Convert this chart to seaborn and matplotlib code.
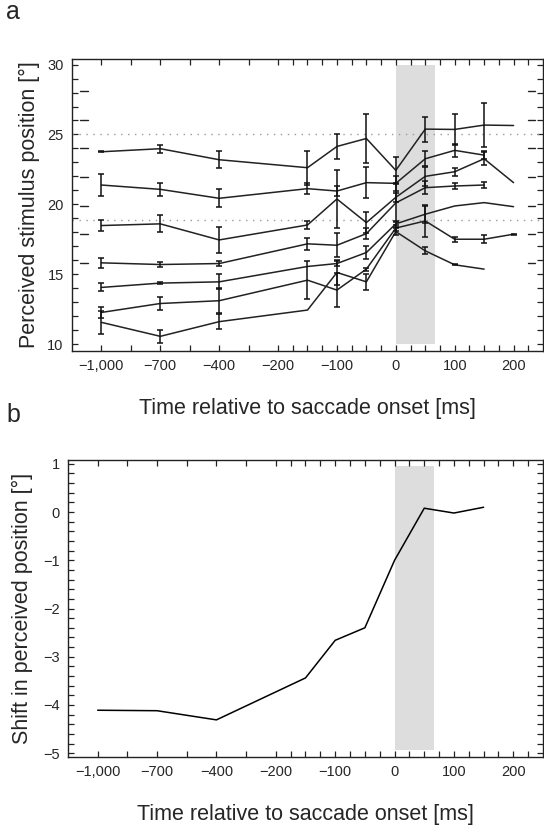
import numpy as np
import pandas as pd
import matplotlib
matplotlib.use("Agg")
import matplotlib.pyplot as plt
import seaborn as sns

# ---------------- data ----------------
times = [-1000, -700, -400, -150, -100, -50, 0, 50, 100, 150, 200]
nan = np.nan
series_vals = {
    "s1": [23.76, 23.98, 23.19, 22.62, 24.14, 24.71, 22.43, 25.38, 25.36, 25.67, 25.64],
    "s2": [21.38, 21.07, 20.43, 21.12, 20.95, 21.55, 21.50, 23.26, 23.86, 23.52, nan],
    "s3": [18.48, 18.60, 17.45, 18.52, 20.38, 18.69, 20.50, 22.00, 22.33, 23.26, 21.55],
    "s4": [15.81, 15.69, 15.76, 17.17, 17.07, 17.90, 20.10, 21.19, 21.31, 21.38, nan],
    "s5": [14.05, 14.36, 14.45, 15.55, 15.76, 16.55, 18.60, 19.29, 19.88, 20.12, 19.83],
    "s6": [12.26, 12.90, 13.10, 14.57, 13.86, 15.36, 18.30, 18.81, 17.50, 17.50, 17.86],
    "s7": [11.55, 10.55, 11.60, 12.43, 15.12, 14.45, 18.05, 16.67, 15.67, 15.36, nan],
}
series_err = {
    "s1": [0.05, 0.30, 0.62, 1.21, 0.90, 1.73, 0.92, 0.90, 1.13, 1.55, nan],
    "s2": [0.82, 0.48, 0.65, 0.40, 0.36, 1.13, 0.55, 0.54, 0.45, 0.30, nan],
    "s3": [0.40, 0.60, 0.96, 0.31, 2.05, 0.77, 0.30, 0.68, 0.30, 0.45, nan],
    "s4": [0.36, 0.21, 0.19, 0.43, 0.87, 0.40, 1.35, 0.48, 0.24, 0.24, nan],
    "s5": [0.29, 0.05, 0.54, nan, 0.19, 0.48, 0.20, 0.60, nan, nan, nan],
    "s6": [0.42, 0.50, 0.90, 1.35, 1.20, 0.10, 0.20, 1.13, 0.17, 0.30, 0.05],
    "s7": [0.83, 0.48, 0.54, nan, 0.90, 0.57, 0.25, 0.24, 0.05, nan, nan],
}
shift_vals = [-4.11, -4.12, -4.31, -3.44, -2.66, -2.40, -1.00, 0.08, -0.02, 0.10, nan]

target_marks = [15.8, 17.85, 19.9, 21.95, 24.0, 26.05, 28.1]
ref_lines = [25.0, 18.88]
saccade_span = (0, 66)

major_ticks = [-1000, -700, -400, -200, -100, 0, 100, 200]
major_labels = ["\u22121,000", "\u2212700", "\u2212400", "\u2212200", "\u2212100", "0", "100", "200"]
minor_ticks = [-850, -550, -300, -175, -150, -125, -75, -50, -25, 25, 50, 75, 125, 150, 175, 225]

xlabel = "Time relative to saccade onset [ms]"
ylabel_a = "Perceived stimulus position [°]"
ylabel_b = "Shift in perceived position [°]"

# ---------------- piecewise time scale ----------------
bp_ms = np.array([-10000.0, -1000.0, -400.0, -200.0, 10000.0])
bp_ix = np.array([-60.0, 0.0, 4.0, 6.0, 210.0])

def fwd(x):
    return np.interp(x, bp_ms, bp_ix)

def inv(u):
    return np.interp(u, bp_ix, bp_ms)

# ---------------- style ----------------
sns.set_style("ticks")
plt.rcParams["font.family"] = ["Liberation Sans", "DejaVu Sans"]
plt.rcParams["axes.linewidth"] = 1.0
plt.rcParams["axes.edgecolor"] = "#222222"

fig = plt.figure(figsize=(5.44, 8.26), dpi=100)
ax1 = fig.add_axes([72 / 544, 1 - 351 / 826, 471 / 544, 292 / 826])
ax2 = fig.add_axes([68 / 544, 1 - 757 / 826, 475 / 544, 297 / 826])

line_color = "#222222"
label_size = 15.5

def style_time_axis(ax):
    ax.set_xscale("function", functions=(fwd, inv))
    ax.set_xlim(-1150, 250)
    ax.set_xticks(major_ticks)
    ax.set_xticklabels(major_labels)
    ax.set_xticks(minor_ticks, minor=True)
    ax.tick_params(axis="both", which="both", direction="in", top=True, right=True,
                   length=4.5, width=0.9, color="#222222", labelsize=10.5, pad=6)
    for s in ax.spines.values():
        s.set_visible(True)
        s.set_linewidth(1.0)
    ax.set_xlabel(xlabel, fontsize=label_size, labelpad=18)

# ---------------- panel a ----------------
rows = []
for name, vals in series_vals.items():
    for t, v, e in zip(times, vals, series_err[name]):
        rows.append({"time": t, "value": v, "err": e, "series": name})
df = pd.DataFrame(rows)

ax1.fill_between(list(saccade_span), 10, 30, color="#dddddd", lw=0, zorder=0)
for yv in ref_lines:
    ax1.axhline(yv, color="#999999", lw=1.0, ls=(0, (1, 4)), zorder=1)
for yv in target_marks:
    ax1.plot([0.018, 0.033], [yv, yv], transform=ax1.get_yaxis_transform(), color="#222222", lw=1.0)
    ax1.plot([0.968, 0.983], [yv, yv], transform=ax1.get_yaxis_transform(), color="#222222", lw=1.0)

sns.lineplot(data=df.dropna(subset=["value"]), x="time", y="value", units="series",
             estimator=None, color=line_color, lw=1.1, ax=ax1, legend=False, zorder=3)
de = df.dropna(subset=["value", "err"])
ax1.errorbar(de["time"], de["value"], yerr=de["err"], fmt="none", ecolor="#111111",
             elinewidth=1.1, capsize=2.2, capthick=1.1, zorder=4)

style_time_axis(ax1)
ax1.set_ylim(9.5, 30.4)
ax1.set_yticks([10, 15, 20, 25, 30])
ax1.set_yticks(np.arange(10, 31, 1), minor=True)
ax1.set_ylabel(ylabel_a, fontsize=label_size, labelpad=5)

# ---------------- panel b ----------------
dfb = pd.DataFrame({"time": times, "shift": shift_vals}).dropna()
ax2.fill_between(list(saccade_span), -4.93, 0.95, color="#dddddd", lw=0, zorder=0)
sns.lineplot(data=dfb, x="time", y="shift", color="black", lw=1.1, ax=ax2, zorder=3)
style_time_axis(ax2)
ax2.set_ylim(-5.08, 1.08)
ax2.set_yticks([-5, -4, -3, -2, -1, 0, 1])
ax2.set_yticklabels(["\u22125", "\u22124", "\u22123", "\u22122", "\u22121", "0", "1"])
ax2.set_yticks(np.arange(-5, 1.01, 0.2), minor=True)
ax2.set_ylabel(ylabel_b, fontsize=label_size, labelpad=7)

fig.text(6 / 544, 1 - 24 / 826, "a", fontsize=18, va="bottom", ha="left")
fig.text(6 / 544, 1 - 427 / 826, "b", fontsize=18, va="bottom", ha="left")

fig.savefig("out.png", dpi=100)
